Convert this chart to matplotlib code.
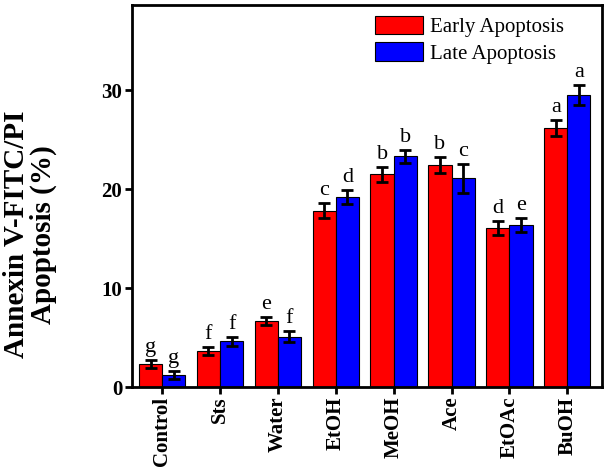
import numpy as np
import matplotlib
matplotlib.use('Agg')
import matplotlib.pyplot as plt

# Data
groups = ['Control', 'Sts', 'Water', 'EtOH', 'MeOH', 'Ace', 'EtOAc', 'BuOH']
early = [2.3, 3.6, 6.7, 17.8, 21.5, 22.4, 16.1, 26.2]
early_err = [0.4, 0.4, 0.4, 0.75, 0.75, 0.8, 0.7, 0.8]
late = [1.2, 4.6, 5.1, 19.2, 23.3, 21.1, 16.4, 29.5]
late_err = [0.4, 0.45, 0.55, 0.7, 0.65, 1.45, 0.7, 1.0]
early_letters = ['g', 'f', 'e', 'c', 'b', 'b', 'd', 'a']
late_letters = ['g', 'f', 'f', 'd', 'b', 'c', 'e', 'a']

plt.rcParams['font.family'] = 'Liberation Serif'

fig = plt.figure(figsize=(6.07, 4.69), dpi=100)
ax = fig.add_axes([132 / 607, 1 - 387 / 469, 470 / 607, 382 / 469])

x = np.arange(len(groups))
w = 0.4
err_kw = dict(ecolor='black', elinewidth=2, capsize=4.5, capthick=2)
ax.bar(x - w / 2, early, w, yerr=early_err, color='#ff0000', edgecolor='black',
       linewidth=0.8, error_kw=err_kw, label='Early Apoptosis')
ax.bar(x + w / 2, late, w, yerr=late_err, color='#0000ff', edgecolor='black',
       linewidth=0.8, error_kw=err_kw, label='Late Apoptosis')

# significance letters above the error bars
for i in range(len(groups)):
    ax.text(x[i] - w / 2, early[i] + early_err[i] + 0.3, early_letters[i],
            ha='center', va='bottom', fontsize=16)
    ax.text(x[i] + w / 2, late[i] + late_err[i] + 0.3, late_letters[i],
            ha='center', va='bottom', fontsize=16)

ax.set_xlim(-0.52, 7.6)
ax.set_ylim(0, 38.6)
ax.set_yticks([0, 10, 20, 30])
ax.set_xticks(x)
ax.set_xticklabels(groups, rotation=90, fontweight='bold', fontsize=15)
for lab in ax.get_yticklabels():
    lab.set_fontweight('bold')
    lab.set_fontsize(15)
ax.tick_params(direction='out', length=5, width=2, pad=2)

for s in ax.spines.values():
    s.set_linewidth(2)

# y label centred on the figure height, as in the reference
fig.text(30 / 607, 0.5, 'Annexin V-FITC/PI\nApoptosis (%)', fontsize=21,
         fontweight='bold', rotation=90, ha='center', va='center',
         multialignment='center', linespacing=1.0)

ax.legend(loc='upper right', frameon=False, fontsize=15, handlelength=2.3,
          handleheight=1.0, handletextpad=0.3, labelspacing=0.25,
          bbox_to_anchor=(0.945, 1.005), borderaxespad=0.2)

fig.savefig('out.png', dpi=100)
